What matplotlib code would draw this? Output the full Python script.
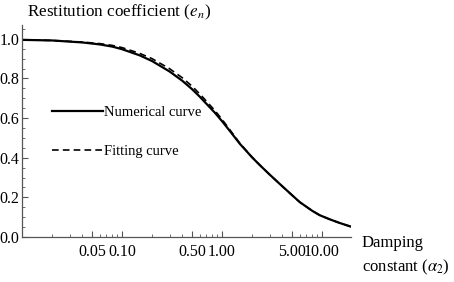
import matplotlib
matplotlib.use("Agg")
import matplotlib.pyplot as plt
from matplotlib.ticker import FixedLocator, FixedFormatter, LogLocator, NullFormatter, MultipleLocator

plt.rcParams['font.family'] = ['Liberation Serif', 'DejaVu Serif']
plt.rcParams['mathtext.fontset'] = 'stix'

# Data
alpha = [0.01, 0.02, 0.04, 0.06, 0.08, 0.10, 0.15, 0.20, 0.30, 0.40, 0.50,
         0.60, 0.70, 0.85, 1.0, 1.2, 1.5, 2.0, 2.4, 3.0, 3.8, 5.0, 6.0,
         8.0, 9.5, 12.0, 15.0, 19.3]
numerical = [0.995, 0.992, 0.982, 0.972, 0.961, 0.948, 0.917, 0.888, 0.835, 0.789, 0.747,
             0.708, 0.672, 0.627, 0.585, 0.535, 0.472, 0.402, 0.362, 0.315, 0.267, 0.212, 0.176,
             0.132, 0.110, 0.089, 0.071, 0.053]
fitting = [0.995, 0.992, 0.984, 0.976, 0.967, 0.956, 0.927, 0.900, 0.849, 0.804, 0.762,
           0.722, 0.685, 0.638, 0.594, 0.541, 0.475, 0.403, 0.362, 0.315, 0.267, 0.212, 0.176,
           0.132, 0.110, 0.089, 0.071, 0.053]

xticks = [0.05, 0.1, 0.5, 1.0, 5.0, 10.0]
xticklabels = ["0.05", "0.10", "0.50", "1.00", "5.00", "10.00"]
yticks = [0.0, 0.2, 0.4, 0.6, 0.8, 1.0]
yticklabels = ["0.0", "0.2", "0.4", "0.6", "0.8", "1.0"]

fig = plt.figure(figsize=(4.54, 2.82), dpi=100)
ax = fig.add_axes([22/454, (282-237)/282, (350.5-22)/454, (237-25)/282])

ax.plot(alpha, numerical, color='black', lw=1.6, label='Numerical curve',
        solid_joinstyle='round')
ax.plot(alpha, fitting, color='black', lw=1.2, ls=(0, (4, 2.5)), label='Fitting curve')

ax.set_xscale('log')
ax.set_xlim(0.01, 19.3)
ax.set_ylim(0.0, 1.07)

for s in ['top', 'right']:
    ax.spines[s].set_visible(False)
axc = '#555555'
for s in ['left', 'bottom']:
    ax.spines[s].set_color(axc)
    ax.spines[s].set_linewidth(0.9)

ax.xaxis.set_major_locator(FixedLocator(xticks))
ax.xaxis.set_major_formatter(FixedFormatter(xticklabels))
ax.xaxis.set_minor_locator(LogLocator(base=10, subs=[2, 3, 4, 6, 7, 8, 9]))
ax.xaxis.set_minor_formatter(NullFormatter())
ax.yaxis.set_major_locator(FixedLocator(yticks))
ax.yaxis.set_major_formatter(FixedFormatter(yticklabels))
ax.yaxis.set_minor_locator(MultipleLocator(0.05))

ax.tick_params(which='both', direction='in', color=axc, labelsize=11.5, labelcolor='black')
ax.tick_params(which='major', length=4, width=0.8)
ax.tick_params(which='minor', length=2, width=0.6)
ax.tick_params(axis='x', pad=5)
ax.tick_params(axis='y', pad=2)

# Legend
ax.legend(loc='upper left', bbox_to_anchor=(30/328.5, 1 - (106-25)/212), frameon=False,
          fontsize=10.5, handlelength=3.5, handletextpad=0.1, labelspacing=1.75,
          borderpad=0, borderaxespad=0)

fig.text(27/454, 1 - 12/282, 'Restitution coefficient ($e_n$)', fontsize=12.3,
         ha='left', va='center')
fig.text(362/454, 1 - 243/282, 'Damping', fontsize=12, ha='left', va='center')
fig.text(362/454, 1 - 267/282, r'constant ($\alpha_2$)', fontsize=12, ha='left', va='center')

fig.savefig('out.png', dpi=100)
